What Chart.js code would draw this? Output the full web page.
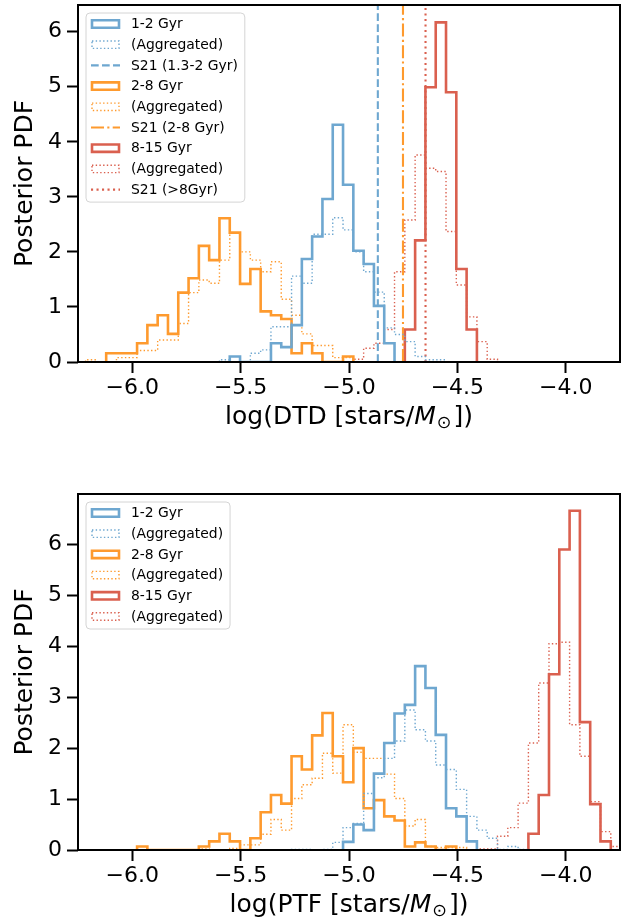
<!DOCTYPE html>
<html>
<head>
<meta charset="utf-8">
<script src="https://cdn.jsdelivr.net/npm/chart.js@4.4.0/dist/chart.umd.min.js"></script>
<style>
  html, body { margin: 0; padding: 0; background: #fff; }
  .panel { position: relative; width: 627px; }
  #topPanel { height: 462px; }
  #bottomPanel { height: 461px; }
</style>
</head>
<body>
<div class="panel" id="topPanel"><canvas id="dtdChart"></canvas></div>
<div class="panel" id="bottomPanel"><canvas id="ptfChart"></canvas></div>
<script>
// every histogram uses the same bin grid: edge k = binStart + k * binWidth
const binStart = -6.12;
const binWidth = 0.0475;

// tick labels
const xTicks = [-6.0, -5.5, -5.0, -4.5, -4.0];
const yTicks = [0, 1, 2, 3, 4, 5, 6];

// --- DTD panel (first bin index, heights) ---
const dtdYoungFirst = 12;
const dtdYoung = [0.1, 0, 0, 0, 0.34, 0.27, 0.67, 1.87, 2.28, 2.96, 4.31, 3.22, 2.02, 1.78, 1.02, 0.34];
const dtdYoungAggFirst = 11;
const dtdYoungAgg = [0.04, 0, 0, 0.16, 0.22, 0.64, 0.64, 1.56, 1.43, 2.32, 2.32, 2.62, 2.40, 2.0, 1.64, 1.27, 0.62, 0.5, 0.37, 0.1, 0.04, 0.04];
const dtdMidFirst = 0;
const dtdMid = [0.16, 0.16, 0.16, 0.34, 0.67, 0.85, 0.51, 1.26, 1.52, 2.11, 1.85, 2.61, 2.35, 1.42, 1.69, 0.92, 0.85, 0.78, 0.16, 0.34, 0.16, 0, 0, 0.1];
const dtdMidAggFirst = -2;
const dtdMidAgg = [0.04, 0, 0, 0.08, 0.08, 0.21, 0.21, 0.40, 0.40, 0.70, 1.26, 1.49, 1.43, 1.85, 2.34, 2.0, 1.85, 1.64, 1.82, 1.14, 0.85, 0.51, 0.30, 0.30, 0.08, 0.08];
const dtdOldFirst = 29;
const dtdOld = [0.59, 2.21, 4.99, 6.17, 4.90, 1.69, 0.59];
const dtdOldAggFirst = 24;
const dtdOldAgg = [0.05, 0.25, 0.34, 0.59, 1.64, 2.58, 3.76, 3.52, 3.46, 2.37, 1.40, 0.82, 0.37, 0.05];
// S21 reference values
const s21Young = -4.867;
const s21Mid = -4.751;
const s21Old = -4.647;
const dtdYMax = 6.485;

// --- PTF panel ---
const ptfYoungFirst = 23;
const ptfYoung = [0.16, 0.5, 0.39, 1.5, 2.1, 2.68, 2.85, 3.61, 3.18, 2.26, 0.82, 0.66, 0.17];
const ptfYoungAggFirst = 18;
const ptfYoungAgg = [0.01, 0.01, 0, 0.01, 0.15, 0.44, 0.52, 1.11, 1.42, 1.8, 2.14, 2.75, 2.36, 2.14, 1.67, 1.58, 1.19, 0.66, 0.39, 0.23, 0.01, 0.07, 0.01];
const ptfMidFirst = 3;
const ptfMid = [0.07, 0, 0, 0, 0, 0, 0.07, 0.17, 0.32, 0.17, 0, 0.23, 0.74, 1.08, 0.91, 1.84, 1.58, 2.25, 2.69, 1.84, 1.33, 2.0, 0.82, 0.98, 0.66, 0.58, 0.07, 0.15, 0.07, 0, 0.07];
const ptfMidAggFirst = 9;
const ptfMidAgg = [0.02, 0, 0, 0.03, 0.1, 0.1, 0.31, 0.6, 0.39, 1.01, 1.28, 1.41, 1.9, 1.51, 2.46, 1.92, 1.8, 1.8, 1.49, 1.01, 0.47, 0.6, 0.07, 0.05, 0.05, 0.05];
const ptfOldFirst = 41;
const ptfOld = [0.32, 1.08, 3.45, 5.9, 6.66, 2.51, 0.9, 0.17];
const ptfOldAggFirst = 36;
const ptfOldAgg = [0.02, 0.02, 0.27, 0.44, 0.92, 2.1, 3.28, 4.05, 4.08, 2.46, 1.84, 0.95, 0.36, 0.07];
const ptfYMax = 6.99;

const BLUE = '#6ea7d0';
const ORANGE = '#fe9a2e';
const RED = '#da604f';
const FONT = '"DejaVu Sans", sans-serif';

// outline of a step histogram, drawn with stepped lines
function histPoints(first, heights) {
  const pts = [{ x: binStart + first * binWidth, y: 0 }];
  heights.forEach((h, i) => pts.push({ x: binStart + (first + i) * binWidth, y: h }));
  pts.push({ x: binStart + (first + heights.length) * binWidth, y: 0 });
  return pts;
}

function solidHist(label, color, first, heights) {
  return { label, handle: 'box', data: histPoints(first, heights), borderColor: color,
    borderWidth: 2.6, stepped: true, borderJoinStyle: 'miter', pointRadius: 0 };
}
function dottedHist(label, color, first, heights) {
  return { label, handle: 'box', data: histPoints(first, heights), borderColor: color,
    borderWidth: 1.4, borderDash: [1.4, 2.3], stepped: true, pointRadius: 0 };
}
function vline(label, color, x, dash) {
  return { label, handle: 'line', data: [{ x, y: 0 }, { x, y: dtdYMax }], borderColor: color,
    borderWidth: 2.1, borderDash: dash, pointRadius: 0 };
}

// legend in the upper-left corner of the plot
const insetLegend = {
  id: 'insetLegend',
  afterDatasetsDraw(chart) {
    const { ctx, chartArea } = chart;
    const items = chart.data.datasets;
    const rowH = 20.7;
    const x0 = chartArea.left + 8, y0 = chartArea.top + 8;
    ctx.save();
    ctx.font = '13.9px ' + FONT;
    const textW = Math.max(...items.map(d => ctx.measureText(d.label).width));
    const w = 45 + textW + 7;
    const h = 11 + (items.length - 1) * rowH + 12.5;
    ctx.beginPath();
    if (ctx.roundRect) ctx.roundRect(x0, y0, w, h, 4); else ctx.rect(x0, y0, w, h);
    ctx.fillStyle = 'rgba(255,255,255,0.8)';
    ctx.fill();
    ctx.strokeStyle = '#d4d4d4';
    ctx.lineWidth = 1;
    ctx.stroke();
    items.forEach((d, i) => {
      const cy = y0 + 11 + i * rowH;
      ctx.strokeStyle = d.borderColor;
      ctx.lineWidth = d.borderWidth;
      ctx.setLineDash(d.borderDash || []);
      ctx.lineJoin = 'miter';
      ctx.beginPath();
      if (d.handle === 'line') {
        ctx.moveTo(x0 + 5, cy);
        ctx.lineTo(x0 + 34, cy);
      } else {
        ctx.rect(x0 + 6, cy - 3.7, 27, 7.4);
      }
      ctx.stroke();
      ctx.setLineDash([]);
      ctx.fillStyle = '#000';
      ctx.textBaseline = 'middle';
      ctx.fillText(d.label, x0 + 45, cy + 0.5);
    });
    ctx.restore();
  }
};

// black box around the axes plus the x label with M_sun
const frameAndLabel = {
  id: 'frameAndLabel',
  afterDraw(chart, args, opts) {
    const { ctx, chartArea } = chart;
    ctx.save();
    ctx.strokeStyle = '#000';
    ctx.lineWidth = 2;
    ctx.strokeRect(chartArea.left, chartArea.top, chartArea.right - chartArea.left, chartArea.bottom - chartArea.top);

    const parts = [
      { text: opts.prefix, font: '25px ' + FONT, dy: 0, gap: 0 },
      { text: 'M', font: 'italic 25px ' + FONT, dy: 0, gap: 1 },
      { text: '\u2299', font: '17.5px ' + FONT, dy: 4, gap: 2 },
      { text: '])', font: '25px ' + FONT, dy: 0, gap: 0 }
    ];
    let total = 0;
    parts.forEach(p => { ctx.font = p.font; p.w = ctx.measureText(p.text).width + p.gap; total += p.w; });
    let x = (chartArea.left + chartArea.right) / 2 - total / 2;
    const y = chartArea.bottom + 62;
    ctx.fillStyle = '#000';
    ctx.textBaseline = 'alphabetic';
    parts.forEach(p => { ctx.font = p.font; ctx.fillText(p.text, x, y + p.dy); x += p.w; });
    ctx.restore();
  }
};

function makeOptions(yMax, xAxisHeight, padTop, prefix) {
  return {
    responsive: true,
    maintainAspectRatio: false,
    animation: false,
    events: [],
    layout: { padding: { top: padTop, right: 7, left: 0, bottom: 0 } },
    plugins: {
      legend: { display: false },
      tooltip: { enabled: false },
      frameAndLabel: { prefix }
    },
    scales: {
      x: {
        type: 'linear',
        min: -6.25,
        max: -3.75,
        afterBuildTicks: s => { s.ticks = xTicks.map(v => ({ value: v })); },
        afterFit: s => { s.height = xAxisHeight; s.paddingLeft = 0; s.paddingRight = 0; },
        grid: { drawOnChartArea: false, drawTicks: true, tickLength: 11, tickWidth: 2, tickColor: '#000' },
        border: { display: false },
        ticks: {
          color: '#000', padding: 2, maxRotation: 0,
          font: { family: FONT, size: 22 },
          callback: v => v.toFixed(1).replace('-', '\u2212')
        }
      },
      y: {
        min: 0,
        max: yMax,
        afterBuildTicks: s => { s.ticks = yTicks.map(v => ({ value: v })); },
        afterFit: s => { s.width = 78; s.paddingTop = 0; s.paddingBottom = 0; },
        grid: { drawOnChartArea: false, drawTicks: true, tickLength: 11, tickWidth: 2, tickColor: '#000' },
        border: { display: false },
        ticks: { color: '#000', padding: 5, font: { family: FONT, size: 22 }, callback: v => String(v) },
        title: { display: true, text: 'Posterior PDF', color: '#000', font: { family: FONT, size: 25 }, padding: { top: 10 } }
      }
    }
  };
}

new Chart(document.getElementById('dtdChart'), {
  type: 'line',
  data: {
    datasets: [
      solidHist('1-2 Gyr', BLUE, dtdYoungFirst, dtdYoung),
      dottedHist('(Aggregated)', BLUE, dtdYoungAggFirst, dtdYoungAgg),
      vline('S21 (1.3-2 Gyr)', BLUE, s21Young, [7.7, 3.3]),
      solidHist('2-8 Gyr', ORANGE, dtdMidFirst, dtdMid),
      dottedHist('(Aggregated)', ORANGE, dtdMidAggFirst, dtdMidAgg),
      vline('S21 (2-8 Gyr)', ORANGE, s21Mid, [13, 3.3, 2.1, 3.3]),
      solidHist('8-15 Gyr', RED, dtdOldFirst, dtdOld),
      dottedHist('(Aggregated)', RED, dtdOldAggFirst, dtdOldAgg),
      vline('S21 (>8Gyr)', RED, s21Old, [2.1, 3.4])
    ]
  },
  options: makeOptions(dtdYMax, 100, 5, 'log(DTD [stars/'),
  plugins: [insetLegend, frameAndLabel]
});

new Chart(document.getElementById('ptfChart'), {
  type: 'line',
  data: {
    datasets: [
      solidHist('1-2 Gyr', BLUE, ptfYoungFirst, ptfYoung),
      dottedHist('(Aggregated)', BLUE, ptfYoungAggFirst, ptfYoungAgg),
      solidHist('2-8 Gyr', ORANGE, ptfMidFirst, ptfMid),
      dottedHist('(Aggregated)', ORANGE, ptfMidAggFirst, ptfMidAgg),
      solidHist('8-15 Gyr', RED, ptfOldFirst, ptfOld),
      dottedHist('(Aggregated)', RED, ptfOldAggFirst, ptfOldAgg)
    ]
  },
  options: makeOptions(ptfYMax, 73, 32, 'log(PTF [stars/'),
  plugins: [insetLegend, frameAndLabel]
});
</script>
</body>
</html>
